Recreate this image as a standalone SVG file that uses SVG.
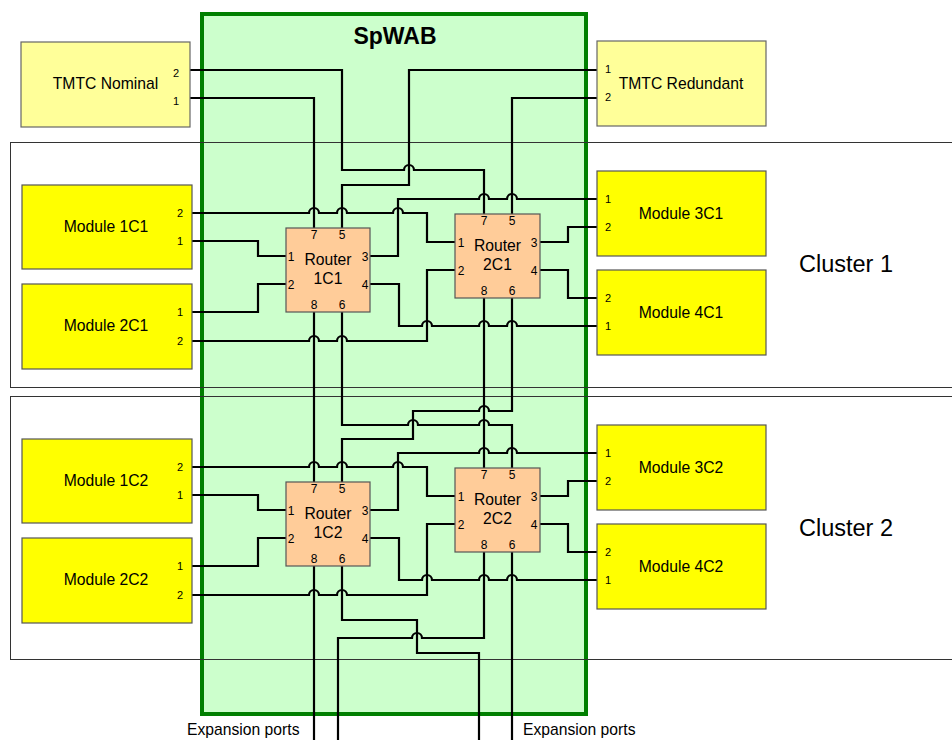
<svg xmlns="http://www.w3.org/2000/svg" width="952" height="740" viewBox="0 0 952 740">
<style>
text{font-family:"Liberation Sans",Arial,sans-serif;fill:#000}
.lbl{font-size:15.7px;text-anchor:middle}
.port{font-size:11px;text-anchor:middle}
.rp{font-size:12px;text-anchor:middle}
.clu{font-size:23.5px}
.title{font-size:23px;font-weight:bold;text-anchor:middle}
.tmtc{fill:#FFFF99;stroke:#666;stroke-width:1.2}
.mod{fill:#FFFF00;stroke:#555;stroke-width:1.2}
.rtr{fill:#FFCC99;stroke:#555;stroke-width:1.2}
.cluster{fill:none;stroke:#333;stroke-width:1}
#connectors path{fill:none;stroke:#000;stroke-width:2.2;stroke-linejoin:miter}
</style>
<rect width="952" height="740" fill="#fff"/>
<g id="spwab">
<rect x="202" y="14" width="384" height="700" fill="#CCFFCC" stroke="#007F00" stroke-width="4"/>
<text class="title" x="395" y="44">SpWAB</text>
</g>
<g id="cluster1">
<rect class="cluster" x="10.5" y="142.5" width="960" height="245"/>
<text class="clu" x="799" y="272">Cluster 1</text>
</g>
<g id="cluster2">
<rect class="cluster" x="10.5" y="396.5" width="960" height="263"/>
<text class="clu" x="799" y="536">Cluster 2</text>
</g>
<g id="connectors">
<path d="M190,70 H342 V170 H404 a5,5 0 0 1 10,0 H484 V214"/>
<path d="M190,98 H314 V228"/>
<path d="M597,70 H409 V185 H342 V228"/>
<path d="M597,98 H512 V214"/>
<path d="M597,199 H517 a5,5 0 0 0 -10,0 H489 a5,5 0 0 0 -10,0 H398 V256 H370"/>
<path d="M192,213 H309 a5,5 0 0 1 10,0 H337 a5,5 0 0 1 10,0 H393 a5,5 0 0 1 10,0 H427 V242 H455"/>
<path d="M192,241 H258 V256 H286"/>
<path d="M192,312 H258 V284 H286"/>
<path d="M192,341 H309 a5,5 0 0 1 10,0 H337 a5,5 0 0 1 10,0 H427 V270 H455"/>
<path d="M370,284 H399 V326 H422 a5,5 0 0 1 10,0 H479 a5,5 0 0 1 10,0 H507 a5,5 0 0 1 10,0 H597"/>
<path d="M540,242 H568 V227 H597"/>
<path d="M540,270 H568 V298 H597"/>
<path d="M314,312 V482"/>
<path d="M342,312 V425 H408 a5,5 0 0 1 10,0 H479 a5,5 0 0 1 10,0 H512 V468"/>
<path d="M484,298 V468"/>
<path d="M512,298 V411 H489 a5,5 0 0 0 -10,0 H413 V439 H342 V482"/>
<path d="M597,453 H517 a5,5 0 0 0 -10,0 H489 a5,5 0 0 0 -10,0 H398 V510 H370"/>
<path d="M192,467 H309 a5,5 0 0 1 10,0 H337 a5,5 0 0 1 10,0 H393 a5,5 0 0 1 10,0 H427 V496 H455"/>
<path d="M192,495 H258 V510 H286"/>
<path d="M192,566 H258 V538 H286"/>
<path d="M192,595 H309 a5,5 0 0 1 10,0 H337 a5,5 0 0 1 10,0 H427 V524 H455"/>
<path d="M370,538 H399 V580 H422 a5,5 0 0 1 10,0 H479 a5,5 0 0 1 10,0 H507 a5,5 0 0 1 10,0 H597"/>
<path d="M540,496 H568 V481 H597"/>
<path d="M540,524 H568 V552 H597"/>
<path d="M314,566 V740"/>
<path d="M342,566 V620 H417 V653 H479 V740"/>
<path d="M484,552 V638 H422 a5,5 0 0 0 -10,0 H338 V740"/>
<path d="M512,552 V740"/>
</g>
<g id="tmtc-nominal">
<rect class="tmtc" x="21" y="42" width="169" height="85"/>
<text class="lbl" x="105.5" y="89">TMTC Nominal</text>
<text class="port" x="176" y="77">2</text>
<text class="port" x="176" y="104.5">1</text>
</g>
<g id="tmtc-redundant">
<rect class="tmtc" x="597" y="41" width="169" height="85"/>
<text class="lbl" x="681" y="88.5">TMTC Redundant</text>
<text class="port" x="608" y="73">1</text>
<text class="port" x="608" y="101">2</text>
</g>
<g id="module-1c1">
<rect class="mod" x="22" y="185" width="170" height="84"/>
<text class="lbl" x="106" y="232">Module 1C1</text>
<text class="port" x="180" y="217">2</text>
<text class="port" x="180" y="245">1</text>
</g>
<g id="module-2c1">
<rect class="mod" x="22" y="284" width="170" height="85"/>
<text class="lbl" x="106" y="331">Module 2C1</text>
<text class="port" x="180" y="316">1</text>
<text class="port" x="180" y="344.5">2</text>
</g>
<g id="module-3c1">
<rect class="mod" x="597" y="171" width="169" height="85"/>
<text class="lbl" x="681" y="218.5">Module 3C1</text>
<text class="port" x="608" y="203">1</text>
<text class="port" x="608" y="231">2</text>
</g>
<g id="module-4c1">
<rect class="mod" x="597" y="270" width="169" height="85"/>
<text class="lbl" x="681" y="317.5">Module 4C1</text>
<text class="port" x="608" y="302">2</text>
<text class="port" x="608" y="330">1</text>
</g>
<g id="router-1c1">
<rect class="rtr" x="286" y="228" width="84" height="84"/>
<text class="lbl" x="328" y="265">Router</text>
<text class="lbl" x="328" y="284">1C1</text>
<text class="rp" x="314" y="238.5">7</text>
<text class="rp" x="342" y="238.5">5</text>
<text class="rp" x="291" y="260.5">1</text>
<text class="rp" x="291" y="288.5">2</text>
<text class="rp" x="365" y="260.5">3</text>
<text class="rp" x="365" y="288.5">4</text>
<text class="rp" x="314" y="309">8</text>
<text class="rp" x="342" y="309">6</text>
</g>
<g id="router-2c1">
<rect class="rtr" x="455" y="214" width="85" height="84"/>
<text class="lbl" x="497.5" y="251">Router</text>
<text class="lbl" x="497.5" y="270">2C1</text>
<text class="rp" x="484" y="225">7</text>
<text class="rp" x="512" y="225">5</text>
<text class="rp" x="461" y="246.5">1</text>
<text class="rp" x="461" y="274.5">2</text>
<text class="rp" x="534" y="246.5">3</text>
<text class="rp" x="534" y="274.5">4</text>
<text class="rp" x="484" y="294.5">8</text>
<text class="rp" x="512" y="294.5">6</text>
</g>
<g id="module-1c2">
<rect class="mod" x="22" y="439" width="170" height="84"/>
<text class="lbl" x="106" y="486">Module 1C2</text>
<text class="port" x="180" y="471">2</text>
<text class="port" x="180" y="499">1</text>
</g>
<g id="module-2c2">
<rect class="mod" x="22" y="538" width="170" height="85"/>
<text class="lbl" x="106" y="585">Module 2C2</text>
<text class="port" x="180" y="570">1</text>
<text class="port" x="180" y="598.5">2</text>
</g>
<g id="module-3c2">
<rect class="mod" x="597" y="425" width="169" height="85"/>
<text class="lbl" x="681" y="472.5">Module 3C2</text>
<text class="port" x="608" y="457">1</text>
<text class="port" x="608" y="485">2</text>
</g>
<g id="module-4c2">
<rect class="mod" x="597" y="524" width="169" height="85"/>
<text class="lbl" x="681" y="571.5">Module 4C2</text>
<text class="port" x="608" y="556">2</text>
<text class="port" x="608" y="584">1</text>
</g>
<g id="router-1c2">
<rect class="rtr" x="286" y="482" width="84" height="84"/>
<text class="lbl" x="328" y="519">Router</text>
<text class="lbl" x="328" y="538">1C2</text>
<text class="rp" x="314" y="492.5">7</text>
<text class="rp" x="342" y="492.5">5</text>
<text class="rp" x="291" y="514.5">1</text>
<text class="rp" x="291" y="542.5">2</text>
<text class="rp" x="365" y="514.5">3</text>
<text class="rp" x="365" y="542.5">4</text>
<text class="rp" x="314" y="563">8</text>
<text class="rp" x="342" y="563">6</text>
</g>
<g id="router-2c2">
<rect class="rtr" x="455" y="468" width="85" height="84"/>
<text class="lbl" x="497.5" y="505">Router</text>
<text class="lbl" x="497.5" y="524">2C2</text>
<text class="rp" x="484" y="479">7</text>
<text class="rp" x="512" y="479">5</text>
<text class="rp" x="461" y="500.5">1</text>
<text class="rp" x="461" y="528.5">2</text>
<text class="rp" x="534" y="500.5">3</text>
<text class="rp" x="534" y="528.5">4</text>
<text class="rp" x="484" y="548.5">8</text>
<text class="rp" x="512" y="548.5">6</text>
</g>
<g id="expansion-labels">
<text class="lbl" style="text-anchor:start" x="187" y="735">Expansion ports</text>
<text class="lbl" style="text-anchor:start" x="523" y="735">Expansion ports</text>
</g>
</svg>
